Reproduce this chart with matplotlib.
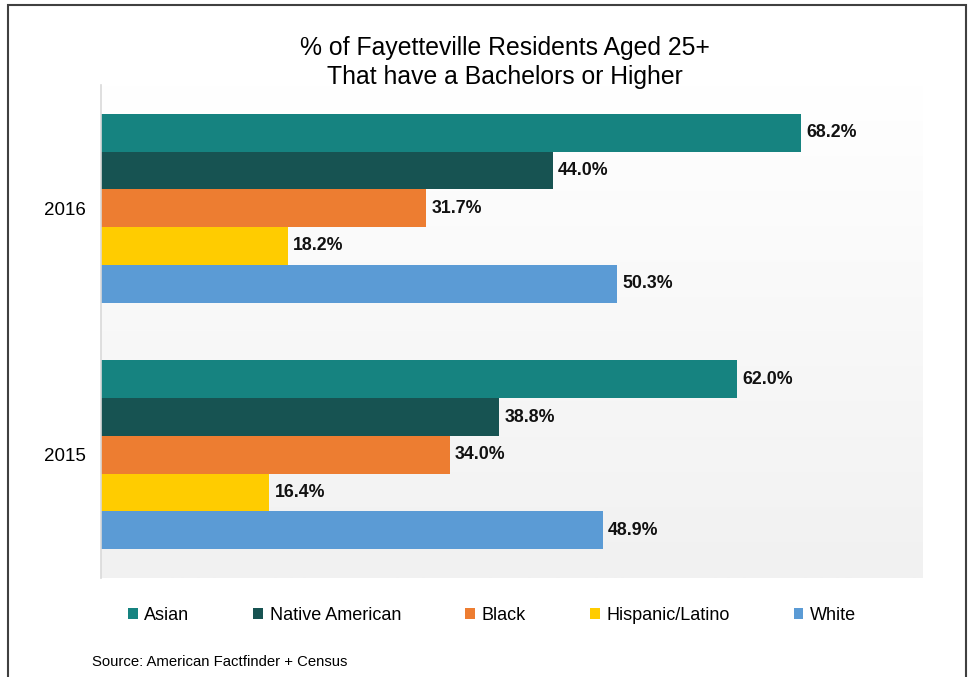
import numpy as np
import matplotlib.pyplot as plt
from matplotlib.patches import Rectangle, Patch

plt.rcParams['font.family'] = ['Liberation Sans', 'DejaVu Sans']

years = ['2015', '2016']
groups = ['Asian', 'Native American', 'Black', 'Hispanic/Latino', 'White']
values = {
    'Asian': [62.0, 68.2],
    'Native American': [38.8, 44.0],
    'Black': [34.0, 31.7],
    'Hispanic/Latino': [16.4, 18.2],
    'White': [48.9, 50.3],
}
colors = ['#168380', '#175352', '#ED7D31', '#FFCC00', '#5B9BD5']

fig = plt.figure(figsize=(9.72, 6.77), dpi=100)
ax = fig.add_axes([101 / 972, 1 - 578 / 677, (922 - 101) / 972, (578 - 85) / 677])

# light gradient background, white on top to grey at the bottom
grad = np.linspace(0, 1, 256).reshape(-1, 1)
ax.imshow(grad, extent=[0, 80, -0.5, 1.5], aspect='auto', origin='upper',
          cmap=plt.matplotlib.colors.LinearSegmentedColormap.from_list('bg', ['#ffffff', '#f1f1f1']),
          zorder=0)

bar_h = 0.153
y = np.arange(len(years))
for i, (g, c) in enumerate(zip(groups, colors)):
    pos = y + (2 - i) * bar_h
    bars = ax.barh(pos, values[g], height=bar_h, color=c, zorder=2)
    for b, v in zip(bars, values[g]):
        ax.text(v + 0.5, b.get_y() + bar_h / 2, f'{v:.1f}%', va='center', ha='left',
                fontsize=12.8, fontweight='bold', color='#111111', zorder=3)

ax.set_xlim(0, 80)
ax.set_ylim(-0.5, 1.5)
ax.set_yticks(y)
ax.set_yticklabels(years, fontsize=13.5)
ax.set_xticks([])
ax.tick_params(axis='y', length=0, pad=11)
for s in ['top', 'right', 'bottom']:
    ax.spines[s].set_visible(False)
ax.spines['left'].set_color('#d9d9d9')
ax.spines['left'].set_linewidth(1.2)

fig.text(505 / 972, 1 - 48 / 677, '% of Fayetteville Residents Aged 25+', ha='center', va='center', fontsize=17.8)
fig.text(505 / 972, 1 - 77 / 677, 'That have a Bachelors or Higher', ha='center', va='center', fontsize=17.8)

handles = [Patch(facecolor=c, edgecolor='none') for c in colors]
fig.legend(handles, groups, loc='center left', bbox_to_anchor=(128 / 972, 1 - 615 / 677),
           ncol=5, frameon=False, fontsize=13, handlelength=0.55, handleheight=0.55,
           handletextpad=0.35, columnspacing=3.55, borderpad=0, borderaxespad=0)

fig.text(92 / 972, 1 - 662 / 677, 'Source: American Factfinder + Census', ha='left', va='center', fontsize=10.75)

fig.patches.append(Rectangle((8 / 972, -0.05), (966 - 8) / 972, 1 - 5 / 677 + 0.05,
                             transform=fig.transFigure, fill=False, edgecolor='#404040', lw=1.5))

fig.savefig('out.png', dpi=100)
